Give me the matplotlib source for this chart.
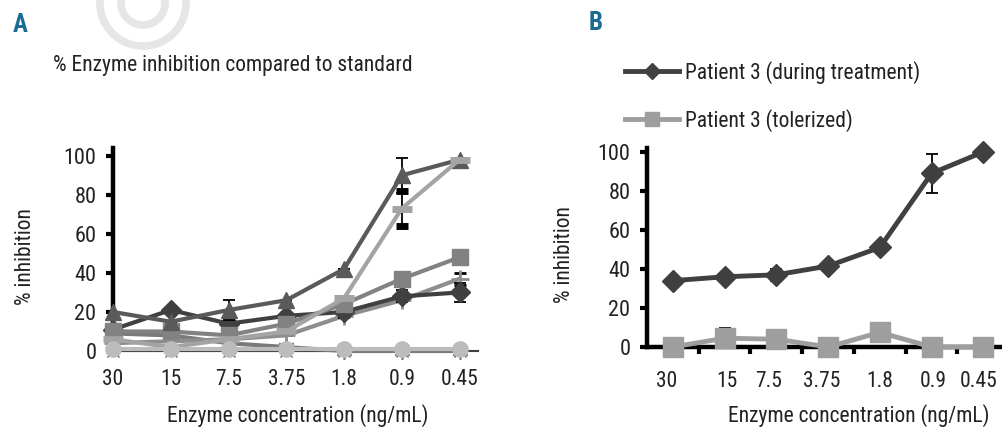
import matplotlib
matplotlib.use("Agg")
import matplotlib.pyplot as plt
from matplotlib.patches import Circle
from matplotlib.lines import Line2D
from matplotlib import font_manager
import numpy as np

avail = {f.name for f in font_manager.fontManager.ttflist}
fams = [f for f in ['Liberation Sans Narrow', 'DejaVu Sans Condensed', 'Roboto Condensed',
                    'Open Sans Condensed', 'Noto Sans'] if f in avail] + ['DejaVu Sans']
plt.rcParams['font.family'] = fams
plt.rcParams['font.stretch'] = 'condensed'

# ---------------- data ----------------
conc_labels = ["30", "15", "7.5", "3.75", "1.8", "0.9", "0.45"]

# Panel A series
a_triangle = [20, 15, 21, 26, 42, 90, 98]
a_triangle_err = [0, 0, 5, 0, 0, 9, 0]
a_diamond = [11, 21, 14, 18, 20, 28, 30]
a_diamond_err = [0, 0, 0, 0, 3, 3, 5]
a_square = [10, 10, 8, 14, 24, 37, 48]
a_square_err = [0, 0, 0, 0, 4, 0, 0]
a_dash = [6, 2, 6, 10, 27, 73, 98]
a_dash_err = [0, 0, 0, 0, 0, 9, 0]
a_plus = [4, 5, 6, 8, 18, 26, 37]
a_plus_err = [0, 0, 0, 0, 0, 0, 3]
a_star = [9, 8, 4, 2, 0, 0, 0]
a_circle = [1, 1, 1, 1, 1, 1, 1]
a_zero = [0, 0, 0, 0, 0, 0, 0]

# Panel B series
b_treat_label = "Patient 3 (during treatment)"
b_treat = [34, 36, 37, 41.5, 51, 89, 100]
b_treat_err = [0, 0, 3, 0, 0, 10, 0]
b_tol_label = "Patient 3 (tolerized)"
b_tol = [0, 4.5, 4, 0, 7.5, 0, 0]
b_tol_err = [0, 5, 4.5, 0, 0, 0, 0]

yticks = [0, 20, 40, 60, 80, 100]

W, H = 1002, 428
fig = plt.figure(figsize=(W / 100, H / 100), dpi=100)
TXT = "#222222"
FS = 15.5

def fr(x0, y_top, x1, y_bot):
    return [x0 / W, 1 - y_bot / H, (x1 - x0) / W, (y_bot - y_top) / H]

# watermark rings
for r in (0.43, 0.22):
    fig.patches.append(Circle((1.43, 4.25), r, transform=fig.dpi_scale_trans,
                              fill=False, lw=5.5, ec="#e6e6e6"))

ebkw = dict(ecolor="black", elinewidth=1.3, capsize=4, capthick=1.3)

# ---------------- Panel A ----------------
axA = fig.add_axes(fr(113, 148, 478, 351))
x = np.arange(len(conc_labels))

axA.plot(x, a_zero, color="#404040", lw=1.5, marker="x", ms=8, mew=0.8,
         clip_on=False, zorder=2)
axA.plot(x, a_star, color="#7a7a7a", lw=3, marker=(6, 2, 0), ms=12, mew=1.2,
         mec="#7a7a7a", clip_on=False, zorder=3)
axA.errorbar(x, a_plus, yerr=a_plus_err, color="#8e8e8e", lw=3, marker="+",
             ms=13, mew=2, clip_on=False, zorder=3, **ebkw)
axA.errorbar(x, a_diamond, yerr=a_diamond_err, color="#404040", lw=3, marker="D",
             ms=10, clip_on=False, zorder=4, **ebkw)
axA.errorbar(x, a_square, yerr=a_square_err, color="#828282", lw=3, marker="s",
             ms=12, clip_on=False, zorder=4, **ebkw)
axA.errorbar(x, a_triangle, yerr=a_triangle_err, color="#5a5a5a", lw=3, marker="^",
             ms=12, clip_on=False, zorder=5, **ebkw)
axA.errorbar(x, a_dash, yerr=a_dash_err, color="#a4a4a4", lw=3, marker="_",
             ms=14, mew=5, clip_on=False, zorder=5, **ebkw)
axA.plot(x, a_circle, color="#bcbcbc", lw=3, marker="o", ms=11,
         clip_on=False, zorder=6)

axA.set_xlim(0, 6.32)
axA.set_ylim(0, 104)
for s in ("top", "right"):
    axA.spines[s].set_visible(False)
axA.spines["left"].set_linewidth(3.2)
axA.spines["left"].set_color("black")
axA.spines["bottom"].set_linewidth(1.5)
axA.spines["bottom"].set_color("#404040")
axA.set_yticks(yticks)
axA.set_yticklabels([str(v) for v in yticks], fontsize=16, color=TXT)
axA.tick_params(axis="y", direction="out", length=5, width=3, pad=7)
axA.set_xticks(x)
axA.set_xticklabels(conc_labels, fontsize=FS, color=TXT)
axA.tick_params(axis="x", length=0, pad=13)
axA.set_xlabel("Enzyme concentration (ng/mL)", fontsize=FS, color=TXT)
axA.xaxis.set_label_coords((298 - 113) / (478 - 113), -(404 - 351) / (351 - 148))
axA.set_ylabel("% inhibition", fontsize=FS, color=TXT)
axA.yaxis.set_label_coords(-(113 - 36) / (478 - 113), (351 - 257) / (351 - 148))

fig.text(53 / W, 1 - 66 / H, "% Enzyme inhibition compared to standard",
         fontsize=FS, color=TXT, va="center", ha="left")
fig.text(13 / W, 1 - 25 / H, "A", fontsize=18, fontweight="bold",
         color="#1d6b93", va="center", ha="left")

# ---------------- Panel B ----------------
axB = fig.add_axes(fr(647, 148, 1002, 347))
xb = np.arange(len(conc_labels))
axB.errorbar(xb, b_treat, yerr=b_treat_err, color="#404040", lw=3.5, marker="D",
             ms=11, clip_on=False, zorder=4, **ebkw)
axB.errorbar(xb, b_tol, yerr=b_tol_err, color="#9e9e9e", lw=3.5, marker="s",
             ms=14, clip_on=False, zorder=5, **ebkw)

axB.set_xlim(-0.5, 6.36)
axB.set_ylim(0, 102)
for s in ("top", "right"):
    axB.spines[s].set_visible(False)
for s in ("left", "bottom"):
    axB.spines[s].set_linewidth(3.2)
    axB.spines[s].set_color("black")
axB.set_yticks(yticks)
axB.set_yticklabels([str(v) for v in yticks], fontsize=16, color=TXT)
axB.tick_params(axis="y", direction="out", length=5, width=3, pad=7)
axB.set_xticks(np.arange(0.5, 6, 1.0))
axB.set_xticklabels([])
axB.tick_params(axis="x", which="major", direction="out", length=5, width=3)
label_pos = [-0.12, 1.04, 1.84, 2.88, 4.0, 5.03, 5.9]
axB.set_xticks(label_pos, minor=True)
axB.set_xticklabels(conc_labels, minor=True, fontsize=FS, color=TXT)
axB.tick_params(axis="x", which="minor", length=0, pad=17)
axB.set_xlabel("Enzyme concentration (ng/mL)", fontsize=FS, color=TXT)
axB.xaxis.set_label_coords((859 - 647) / (1002 - 647), -(404 - 347) / (347 - 148))
axB.set_ylabel("% inhibition", fontsize=FS, color=TXT)
axB.yaxis.set_label_coords(-(647 - 575) / (1002 - 647), (347 - 255) / (347 - 148))

handles = [Line2D([], [], color="#404040", lw=3.5, marker="D", ms=8),
           Line2D([], [], color="#9e9e9e", lw=3.5, marker="s", ms=10)]
leg = axB.legend(handles, [b_treat_label, b_tol_label], loc="upper left",
                 bbox_to_anchor=(625 / W, 1 - 61 / H),
                 bbox_transform=fig.transFigure, frameon=False, fontsize=FS,
                 handlelength=2.5, handletextpad=0.3, labelspacing=1.15,
                 borderpad=0, borderaxespad=0)
for t in leg.get_texts():
    t.set_color(TXT)

fig.text(589 / W, 1 - 23 / H, "B", fontsize=18, fontweight="bold",
         color="#1d6b93", va="center", ha="left")

fig.savefig("out.png", dpi=100)
